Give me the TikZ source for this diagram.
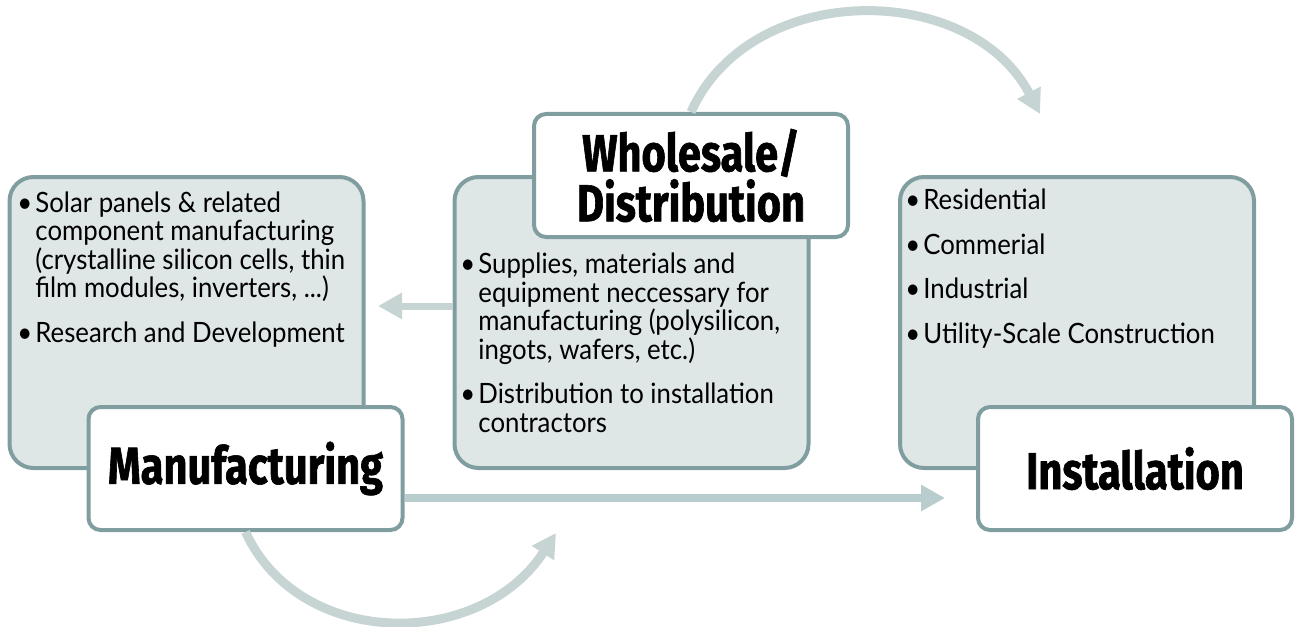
\documentclass[tikz,border=0pt]{standalone}
\usepackage{fontspec}
\setmainfont{Lato}[FakeStretch=0.92]
\newfontfamily\headfont[FakeStretch=0.8,FakeBold=1.2]{Fira Sans}
\usetikzlibrary{arrows.meta}

\definecolor{marco}{HTML}{809E9F}
\definecolor{relleno}{HTML}{DFE6E6}
\definecolor{flecha}{HTML}{C6D4D3}
\definecolor{flechados}{HTML}{B9CCCE}

\newcommand{\bul}{\llap{\textbullet\hspace{1.5pt}}}

\tikzset{
  cajagris/.style={draw=marco, fill=relleno, line width=2pt, rounded corners=12pt,
    minimum width=177pt, minimum height=145.5pt, inner sep=0pt},
  cajablanca/.style={draw=marco, fill=white, line width=2pt, rounded corners=6pt,
    minimum width=157pt, minimum height=61.5pt, inner sep=0pt,
    font=\headfont\bfseries\fontsize{26}{25}\selectfont, align=center},
  lista/.style={anchor=base west, inner sep=0pt, align=left,
    font=\fontsize{14}{14.25}\selectfont},
  flechabase/.style={line width=4.5pt, -{Triangle[length=12pt,width=12.5pt]}}
}

\begin{document}
\begin{tikzpicture}[x=0.5pt, y=-0.5pt]
  \useasboundingbox (0,0) rectangle (1300,626);

  % Cajas grises
  \node[cajagris] (fabgris) at (186.5,322.5) {};
  \node[cajagris] (mayorgris) at (631.5,322.5) {};
  \node[cajagris] (instgris) at (1077,322.5) {};

  % Textos de las listas (base en la ultima linea)
  \node[lista] (fablista) at (35,342)
    {\bul Solar panels \& related\\
     component manufacturing\\
     (crystalline silicon cells, thin\\
     film modules, inverters, ...)\\[8pt]
     \bul Research and Development};
  \node[lista] (mayorlista) at (478,432)
    {\bul Supplies, materials and\\
     equipment neccessary for\\
     manufacturing (polysilicon,\\
     ingots, wafers, etc.)\\[8pt]
     \bul Distribution to installation\\
     contractors};
  \node[lista] (instlista) at (923,343)
    {\bul Residential\\[8pt]
     \bul Commerial\\[8pt]
     \bul Industrial\\[8pt]
     \bul Utility-Scale Construction};

  % Cajas de titulo
  \node[cajablanca] (fab) at (245.5,468.5) {Manufacturing};
  \node[cajablanca] (mayor) at (691,175.5) {Wholesale/\\Distribution};
  \node[cajablanca] (inst) at (1135,468.5) {Installation};

  % Flechas
  \coordinate (puntaizq) at (378,306);
  \coordinate (puntainst) at (945,498);
  \coordinate (puntaabajo) at (556,533);
  \coordinate (puntaarriba) at (1040,114);

  \draw[flechabase, draw=flecha, line width=3.5pt]
    (mayorgris.west |- puntaizq) -- (puntaizq);
  \draw[flechabase, draw=flechados, line width=4pt]
    (fab.east |- puntainst) -- (puntainst);
  \draw[flechabase, draw=flecha]
    (fab.south) .. controls (300,650) and (480,650) .. (puntaabajo);
  \draw[flechabase, draw=flecha]
    (mayor.north) .. controls (750,-20) and (970,-20) .. (puntaarriba);
\end{tikzpicture}
\end{document}
